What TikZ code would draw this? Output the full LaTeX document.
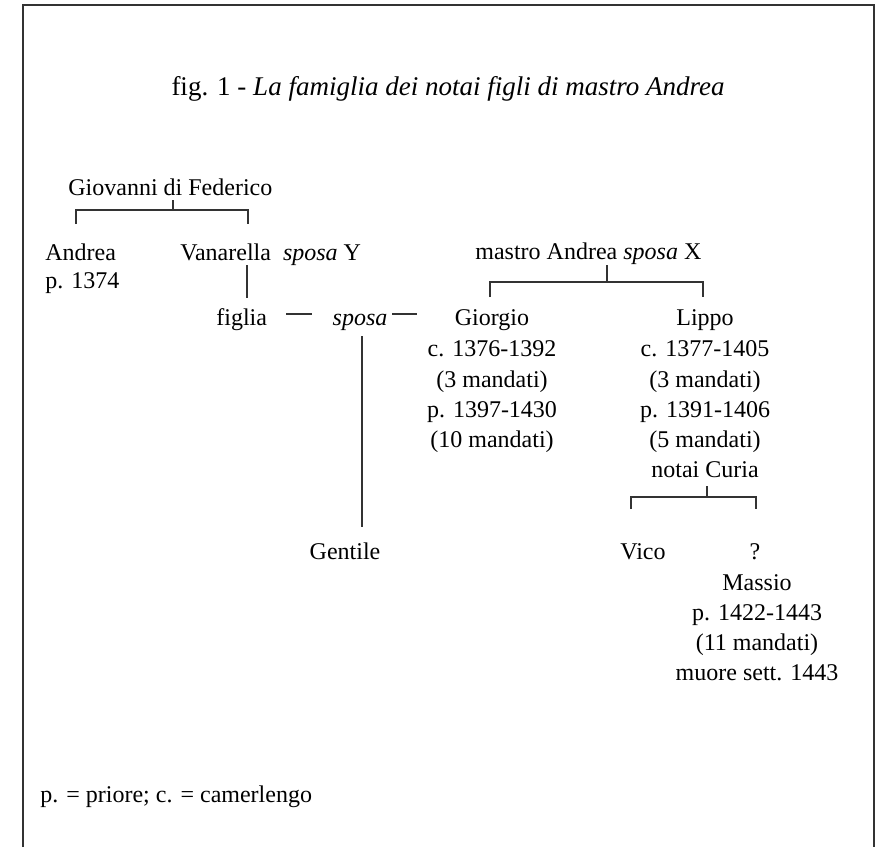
\documentclass[tikz,border=0pt]{standalone}
\usepackage{fontspec}
\setmainfont{Liberation Serif}
\begin{document}
\begin{tikzpicture}[x=0.5pt,y=-0.5pt,
  t/.style={inner sep=0pt, font=\fontsize{12}{14}\selectfont},
  tl/.style={t, anchor=base west},
  tc/.style={t, anchor=base},
  ln/.style={line width=0.55pt, draw=black!80}]
\useasboundingbox (0,0) rectangle (876,847);
% frame
\coordinate (fbl) at (23,847);
\coordinate (ftl) at (23,5);
\coordinate (ftr) at (874,5);
\coordinate (fbr) at (874,847);
\draw[ln] (fbl) -- (ftl) -- (ftr) -- (fbr);
% title
\node[tc, font=\fontsize{13.5}{16}\selectfont] (title) at (448,95) {fig. 1 - \textit{La famiglia dei notai figli di mastro Andrea}};
% Giovanni
\node[tl] (giov) at (68,195) {Giovanni di Federico};
\node[tl] (andrea) at (45,260) {Andrea};
\node[tl] (andreap) at (45,288) {p. 1374};
\node[tl] (vanar) at (180,260) {Vanarella\ \ \textit{sposa} Y};
\coordinate (g1) at (173,200);
\coordinate (g2) at (173,210);
\coordinate (g3) at (76,210);
\coordinate (g4) at (76,224);
\coordinate (g5) at (248,210);
\coordinate (g6) at (248,224);
\draw[ln] (g1) -- (g2);
\draw[ln] (g4) -- (g3) -- (g5) -- (g6);
% Vanarella line
\coordinate (v1) at (247,265);
\coordinate (v2) at (247,298);
\draw[ln] (v1) -- (v2);
% figlia sposa
\node[tl] (figlia) at (216,325) {figlia};
\node[tc] (sposa) at (360,325) {\textit{sposa}};
\coordinate (d1) at (286,314);
\coordinate (d2) at (312,314);
\coordinate (d3) at (392,314);
\coordinate (d4) at (417,314);
\draw[ln] (d1) -- (d2);
\draw[ln] (d3) -- (d4);
\coordinate (s1) at (362,336);
\coordinate (s2) at (362,527);
\draw[ln] (s1) -- (s2);
\node[tc] (gentile) at (345,559) {Gentile};
% mastro Andrea
\node[tl] (mastro) at (475,259) {mastro Andrea \textit{sposa} X};
\coordinate (m1) at (607,265);
\coordinate (m2) at (607,282);
\coordinate (m3) at (490,282);
\coordinate (m4) at (490,297);
\coordinate (m5) at (703,282);
\coordinate (m6) at (703,297);
\draw[ln] (m1) -- (m2);
\draw[ln] (m4) -- (m3) -- (m5) -- (m6);
% Giorgio column
\node[tc] (giorgio) at (492,325) {Giorgio};
\node[tc] (gio1) at (492,356) {c. 1376-1392};
\node[tc] (gio2) at (492,387) {(3 mandati)};
\node[tc] (gio3) at (492,417) {p. 1397-1430};
\node[tc] (gio4) at (492,447) {(10 mandati)};
% Lippo column
\node[tc] (lippo) at (705,325) {Lippo};
\node[tc] (lip1) at (705,356) {c. 1377-1405};
\node[tc] (lip2) at (705,387) {(3 mandati)};
\node[tc] (lip3) at (705,417) {p. 1391-1406};
\node[tc] (lip4) at (705,447) {(5 mandati)};
\node[tc] (lip5) at (705,477) {notai Curia};
\coordinate (n1) at (707,486);
\coordinate (n2) at (707,497);
\coordinate (n3) at (631,497);
\coordinate (n4) at (631,509);
\coordinate (n5) at (756,497);
\coordinate (n6) at (756,509);
\draw[ln] (n1) -- (n2);
\draw[ln] (n4) -- (n3) -- (n5) -- (n6);
\node[tc] (vico) at (643,559) {Vico};
\node[tc] (q) at (755,559) {?};
\node[tc] (massio) at (757,590) {Massio};
\node[tc] (mas1) at (757,620) {p. 1422-1443};
\node[tc] (mas2) at (757,650) {(11 mandati)};
\node[tc] (mas3) at (757,680) {muore sett. 1443};
% footer
\node[tl] (footer) at (40,802) {p. = priore; c. = camerlengo};
\end{tikzpicture}
\end{document}
